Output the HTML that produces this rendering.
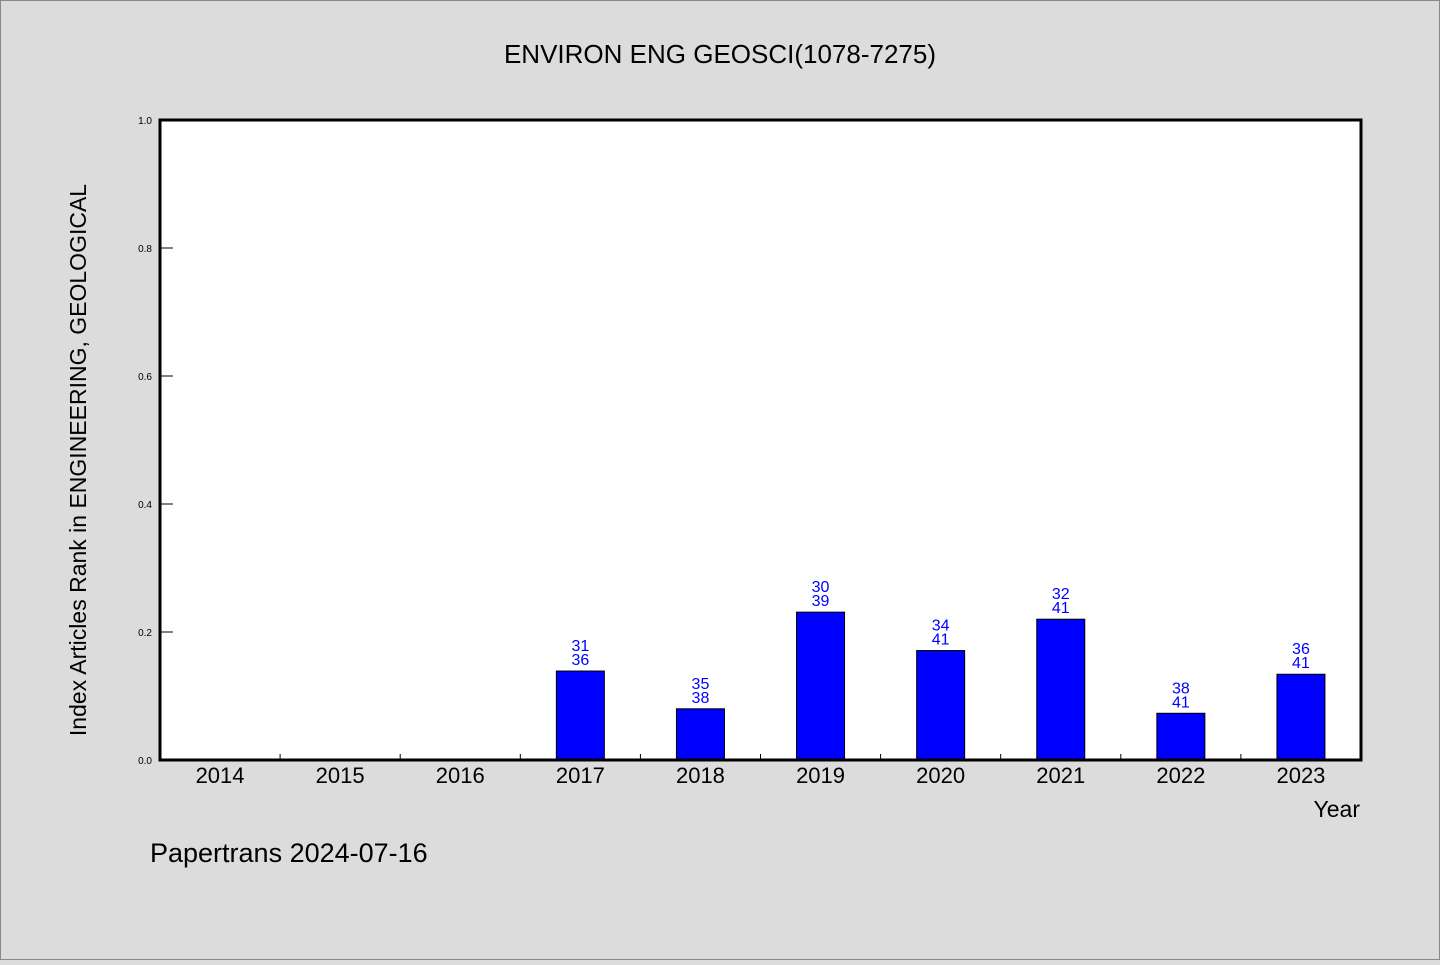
<!DOCTYPE html>
<html><head><meta charset="utf-8"><style>
body{margin:0;background:#dcdcdc;}
svg text{font-family:"Liberation Sans","WenQuanYi Zen Hei",sans-serif;}
</style></head><body>
<svg id="chart" width="1440" height="960" xmlns="http://www.w3.org/2000/svg">
<rect x="0.5" y="0.5" width="1439" height="959" fill="#dcdcdc" stroke="#888"/>
<text x="720" y="63" text-anchor="middle" font-size="26" fill="#000">ENVIRON ENG GEOSCI(1078-7275)</text>
<rect x="160" y="120" width="1201" height="640" fill="#fff"/>
<g id="ticks"></g>
<g id="bars"></g>
<rect x="160" y="120" width="1201" height="640" fill="none" stroke="#000" stroke-width="3"/>
<text transform="translate(86,460) rotate(-90)" text-anchor="middle" font-size="23" fill="#000">Index Articles Rank in ENGINEERING, GEOLOGICAL</text>
<text x="1360" y="817" text-anchor="end" font-size="23" fill="#000">Year</text>
<text x="150" y="862" font-size="27" fill="#000">Papertrans 2024-07-16</text>
</svg>
<script>
const years=["2014","2015","2016","2017","2018","2019","2020","2021","2022","2023"];
const values=[0,0,0,0.139,0.08,0.231,0.171,0.22,0.073,0.134];
const ranks=[null,null,null,"31","35","30","34","32","38","36"];
const totals=[null,null,null,"36","38","39","41","41","41","41"];
const yTicks=["0.0","0.2","0.4","0.6","0.8","1.0"];
const NS="http://www.w3.org/2000/svg";
const x0=160,x1=1361,y0=760,y1=120;
const bw=(x1-x0)/years.length;
const yScale=v=>y0-(v)*(y0-y1);
const xScale=i=>x0+bw*(i+0.5);
function mk(tag,attrs,parent){const e=document.createElementNS(NS,tag);for(const k in attrs)e.setAttribute(k,attrs[k]);parent.appendChild(e);return e;}
const tg=document.getElementById('ticks'),bg=document.getElementById('bars');
yTicks.forEach(t=>{const y=yScale(parseFloat(t));
 const l=mk('line',{x1:x0,x2:x0+13,y1:y,y2:y,stroke:'#000','stroke-width':1},tg);
 
 
 const tx=mk('text',{x:152,y:y+4,'text-anchor':'end','font-size':10,fill:'#000'},tg);
 tx.textContent=t;
 
 
});
years.forEach((yr,i)=>{
 if(i>0){const tx0=x0+bw*i;const l=mk('line',{x1:tx0,x2:tx0,y1:y0,y2:y0-6,stroke:'#000','stroke-width':1},tg);
  
  }
 const t=mk('text',{x:xScale(i),y:783,'text-anchor':'middle','font-size':22,fill:'#000'},tg);
 t.textContent=yr;
 
 
 if(values[i]>0){
  const top=yScale(values[i]);
  const r=mk('rect',{x:xScale(i)-24,y:top,width:48,height:y0-top,fill:'#0000ff',stroke:'#000','stroke-width':1},bg);
  
  
  const a=mk('text',{x:xScale(i),y:top-20,'text-anchor':'middle','font-size':16,fill:'#0000ff'},bg);
  a.textContent=ranks[i];
  
  
  const b=mk('text',{x:xScale(i),y:top-6,'text-anchor':'middle','font-size':16,fill:'#0000ff'},bg);
  b.textContent=totals[i];
  
  
 }
});
</script>
</body></html>
